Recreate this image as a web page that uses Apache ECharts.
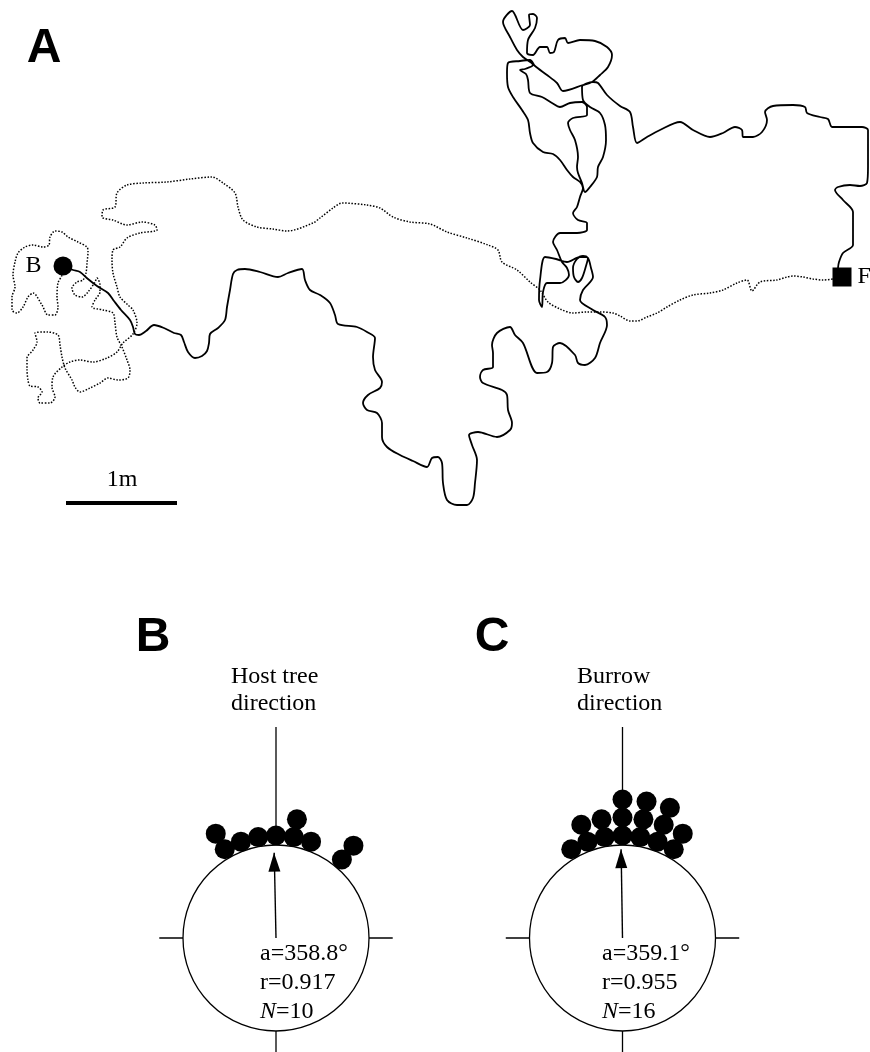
<!DOCTYPE html>
<html>
<head>
<meta charset="utf-8">
<script src="https://cdn.jsdelivr.net/npm/echarts@6.0.0/dist/echarts.min.js"></script>
<style>
html, body { margin: 0; padding: 0; background: #fff; }
#main { width: 870px; height: 1052px; }
</style>
</head>
<body>
<div id="main"></div>
<script>
// Panel A: traced walking paths, in figure units (x right, y down)
var solidPath = [
    [63,266],[73,270],[80,272],[88,279],[97,286],[108,293],[114,301],[121,310],[130,320],[133,327],[135,334],[139,335],
    [146,331],[154,325],[164,328],[174,333],[181,335],[184,342],[188,352],[195,358],[202,356],[207,351],[209,343],[210,334],
    [218,328],[225,320],[227,307],[230,290],[233,274],[237,270],[245,269],[260,272],[278,277],[288,273],[302,269],[305,280],
    [310,290],[320,295],[330,303],[335,315],[338,324],[357,327],[367,332],[375,338],[373,357],[375,370],[382,382],[380,388],
    [368,395],[363,403],[367,410],[377,413],[382,423],[382,437],[387,447],[400,455],[413,461],[427,467],[432,458],[438,457],
    [442,463],[443,483],[447,500],[457,505],[467,505],[473,498],[475,483],[477,460],[472,445],[469,435],[478,432],[497,437],
    [510,430],[512,423],[508,410],[507,395],[502,390],[483,383],[480,377],[483,370],[493,367],[493,353],[492,345],[497,333],
    [510,327],[515,335],[523,343],[537,373],[547,372],[552,363],[553,347],[560,343],[575,355],[578,363],[585,365],[595,358],
    [600,343],[607,325],[605,317],[593,310],[580,300],[583,290],[593,277],[591,268],[588,258],[583,256],[577,259],[573,268],
    [574,277],[578,282],[582,278],[586,266],[588,258],[580,257],[567,262],[556,259],[545,257],[540,280],[539,300],[542,307],
    [543,292],[547,283],[560,283],[569,275],[567,268],[562,262],[557,250],[553,242],[560,233],[577,233],[587,230],[587,223],
    [578,220],[573,213],[577,207],[580,197],[583,188],[580,182],[573,177],[567,170],[560,160],[553,154],[543,152],[533,143],
    [530,133],[528,120],[522,110],[513,97],[508,87],[507,73],[508,63],[520,61],[530,60],[535,66],[547,75],[557,83],
    [563,91],[583,85],[592,82],[600,75],[608,67],[612,55],[607,47],[595,41],[580,40],[568,43],[565,38],[558,40],
    [554,52],[550,53],[547,47],[540,47],[533,55],[527,53],[528,40],[535,28],[537,18],[533,14],[529,15],[530,25],
    [523,30],[512,11],[503,22],[510,37],[517,50],[523,57],[533,65],[525,69],[520,70],[526,74],[528,80],[530,93],
    [542,97],[552,103],[560,107],[570,103],[582,102],[587,107],[587,115],[573,118],[568,123],[570,130],[575,140],[578,157],
    [577,167],[578,173],[582,183],[585,192],[590,187],[597,177],[598,167],[603,157],[606,140],[605,125],[600,113],[590,107],
    [583,100],[582,87],[593,82],[598,83],[607,95],[620,106],[630,112],[633,127],[637,143],[647,137],[660,130],[680,122],
    [693,130],[710,137],[723,133],[735,127],[742,130],[743,137],[753,137],[762,132],[767,120],[765,112],[773,106],[793,105],
    [805,107],[807,113],[820,117],[828,119],[832,127],[843,127],[862,127],[868,130],[868,147],[868,167],[867,183],[860,186],
    [850,185],[838,187],[835,190],[843,200],[853,212],[853,227],[853,245],[843,253],[839,262],[838,268]
];
var dottedPath = [
    [63,266],[62,275],[58,283],[57,297],[58,307],[55,315],[48,315],[42,305],[33,293],[28,297],[23,307],[17,313],
    [12,310],[12,297],[15,287],[13,275],[15,262],[18,253],[25,247],[33,245],[43,247],[49,245],[50,237],[55,231],
    [62,232],[68,237],[78,242],[87,247],[88,252],[87,263],[86,273],[83,280],[77,282],[72,288],[75,295],[82,297],
    [88,292],[95,282],[97,278],[100,285],[100,292],[95,300],[92,307],[103,310],[113,313],[115,323],[117,337],[122,347],
    [127,360],[130,370],[128,378],[118,380],[108,378],[100,383],[90,388],[80,392],[75,387],[72,380],[65,368],[62,357],
    [60,345],[58,335],[47,332],[35,333],[37,342],[33,350],[27,358],[27,370],[28,380],[30,386],[38,387],[42,392],
    [38,398],[40,403],[50,403],[55,397],[52,387],[53,377],[62,367],[70,362],[80,360],[93,362],[107,358],[117,352],
    [123,343],[133,334],[137,323],[133,310],[128,305],[120,297],[117,287],[113,273],[112,260],[113,250],[120,247],[127,238],
    [140,233],[157,230],[155,225],[142,222],[127,225],[113,220],[102,217],[103,210],[115,207],[117,193],[127,185],[143,183],
    [167,182],[190,179],[212,177],[223,183],[235,193],[238,207],[243,220],[257,227],[273,229],[287,231],[313,223],[320,218],
    [333,208],[342,203],[367,205],[380,208],[393,217],[410,222],[430,224],[447,232],[467,238],[488,245],[498,250],[502,262],
    [517,270],[530,282],[540,290],[548,302],[560,309],[573,313],[587,312],[600,312],[613,313],[620,316],[630,321],[637,321],
    [647,317],[657,313],[667,307],[680,300],[693,295],[710,293],[723,290],[737,283],[747,280],[752,291],[760,282],[777,280],
    [787,277],[793,276],[803,277],[813,279],[823,280],[833,279]
];
var startPoint = [63, 266];
var endPoint = [842, 277];
var scaleBar = [[66, 503], [177, 503]];

// Panels B and C: orientation angles (degrees, clockwise from the reference direction)
var hostAngles = [330, 330, 340, 350, 0, 10, 10, 20, 40, 40];
var burrowAngles = [330, 340, 340, 350, 350, 0, 0, 0, 10, 10, 10, 20, 20, 20, 30, 30];
var hostMean = [358.8, 0.917];
var burrowMean = [359.1, 0.955];

var CIRCLE_R = 93;
var CROSS_MAX = 2.3;
var DOT_GAP = 9.5;
var DOT_STEP = 18;
var centers = [[276, 938], [622.5, 938]];
var serif = 'Liberation Serif';

function dotData(angles) {
    var seen = {};
    return angles.map(function (a) {
        var k = seen[a] || 0;
        seen[a] = k + 1;
        return [1 + (DOT_GAP + k * DOT_STEP) / CIRCLE_R, a];
    });
}

// cross arms live on a larger polar system sharing the same centre
function crossLines(idx) {
    var arms = [[0, 2.27], [90, 1.255], [180, 1.3], [270, 1.255]];
    return arms.map(function (t) {
        return {
            type: 'line', coordinateSystem: 'polar', polarIndex: idx + 2,
            data: [[1, t[0]], [t[1], t[0]]],
            symbol: 'none', silent: true,
            lineStyle: {color: '#000', width: 1.3}
        };
    });
}

function arrowSeries(idx, mean) {
    return {
        type: 'line', coordinateSystem: 'polar', polarIndex: idx,
        symbol: 'none', showSymbol: true, silent: true, clip: false,
        lineStyle: {color: '#000', width: 1.4},
        data: [
            [0, mean[0]],
            {value: [mean[1], mean[0]], symbol: 'triangle', symbolSize: [12, 19],
             symbolOffset: [0, 9.5], symbolRotate: 360 - mean[0], itemStyle: {color: '#000', opacity: 1}}
        ]
    };
}

function polarAngle(idx, showLine) {
    return {
        polarIndex: idx, type: 'value', min: 0, max: 360, startAngle: 90, clockwise: true,
        axisLine: {show: showLine, lineStyle: {color: '#000', width: 1.3}},
        axisTick: {show: false}, axisLabel: {show: false}, splitLine: {show: false}
    };
}

function polarRadius(idx, max) {
    return {
        polarIndex: idx, min: 0, max: max,
        axisLine: {show: false}, axisTick: {show: false}, axisLabel: {show: false}, splitLine: {show: false}
    };
}

function label(text, x, y, font, align, extra) {
    var s = {text: text, x: x, y: y, font: font, fill: '#000',
        align: align, textAlign: align, verticalAlign: 'middle', textVerticalAlign: 'middle'};
    for (var k in extra) s[k] = extra[k];
    return {type: 'text', silent: true, style: s};
}

var myChart = echarts.init(document.getElementById('main'));

var series = [
    {
        name: 'Dotted path', type: 'line', data: dottedPath, smooth: 0.3,
        symbol: 'none', silent: true,
        lineStyle: {color: '#000', width: 1.5, type: [1.5, 1.6]}
    },
    {
        name: 'Solid path', type: 'line', data: solidPath, smooth: 0.3,
        symbol: 'none', silent: true,
        lineStyle: {color: '#000', width: 1.8}
    },
    {
        type: 'line', data: scaleBar, symbol: 'none', silent: true,
        lineStyle: {color: '#000', width: 4}
    },
    {
        type: 'scatter', data: [startPoint], symbol: 'circle', symbolSize: 19, silent: true,
        itemStyle: {color: '#000', opacity: 1},
        label: {show: true, position: 'left', distance: 12, formatter: 'B',
            color: '#000', fontFamily: serif, fontSize: 24}
    },
    {
        type: 'scatter', data: [endPoint], symbol: 'rect', symbolSize: 19, silent: true,
        itemStyle: {color: '#000', opacity: 1},
        label: {show: true, position: 'right', distance: 6, formatter: 'F',
            color: '#000', fontFamily: serif, fontSize: 24}
    },
    {
        type: 'scatter', coordinateSystem: 'polar', polarIndex: 0, data: dotData(hostAngles),
        symbolSize: 20, itemStyle: {color: '#000', opacity: 1}, silent: true, clip: false
    },
    {
        type: 'scatter', coordinateSystem: 'polar', polarIndex: 1, data: dotData(burrowAngles),
        symbolSize: 20, itemStyle: {color: '#000', opacity: 1}, silent: true, clip: false
    },
    arrowSeries(0, hostMean),
    arrowSeries(1, burrowMean)
].concat(crossLines(0), crossLines(1));

var statsRich = {i: {fontStyle: 'italic', fontFamily: serif, fontSize: 24, lineHeight: 29}};

option = {
    animation: false,
    backgroundColor: '#fff',
    grid: {left: 0, right: 0, top: 0, bottom: 0},
    xAxis: {type: 'value', min: 0, max: 870, show: false},
    yAxis: {type: 'value', min: 0, max: 1052, inverse: true, show: false},
    polar: [
        {center: centers[0], radius: CIRCLE_R},
        {center: centers[1], radius: CIRCLE_R},
        {center: centers[0], radius: CIRCLE_R * CROSS_MAX},
        {center: centers[1], radius: CIRCLE_R * CROSS_MAX}
    ],
    angleAxis: [polarAngle(0, true), polarAngle(1, true), polarAngle(2, false), polarAngle(3, false)],
    radiusAxis: [polarRadius(0, 1), polarRadius(1, 1), polarRadius(2, CROSS_MAX), polarRadius(3, CROSS_MAX)],
    graphic: [
        label('A', 44, 49, 'bold 48px "Liberation Sans"', 'center'),
        label('B', 153, 638, 'bold 48px "Liberation Sans"', 'center'),
        label('C', 492, 638, 'bold 48px "Liberation Sans"', 'center'),
        label('1m', 122, 480, '24px "Liberation Serif"', 'center'),
        label('Host tree\ndirection', 231, 690, '24px "Liberation Serif"', 'left', {lineHeight: 27}),
        label('Burrow\ndirection', 577, 690, '24px "Liberation Serif"', 'left', {lineHeight: 27}),
        label('a=' + hostMean[0] + '°\nr=' + hostMean[1] + '\n{i|N}=' + hostAngles.length,
            260, 983, '24px "Liberation Serif"', 'left', {lineHeight: 29, rich: statsRich}),
        label('a=' + burrowMean[0] + '°\nr=' + burrowMean[1] + '\n{i|N}=' + burrowAngles.length,
            602, 983, '24px "Liberation Serif"', 'left', {lineHeight: 29, rich: statsRich})
    ],
    series: series
};

myChart.setOption(option);
</script>
</body>
</html>
